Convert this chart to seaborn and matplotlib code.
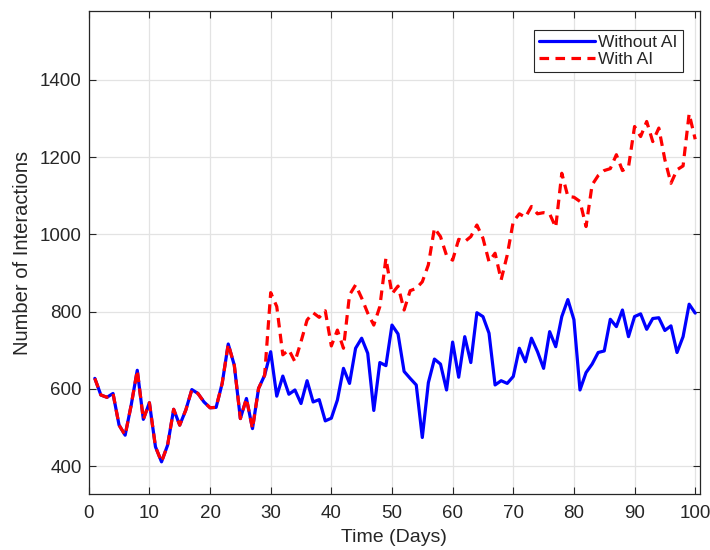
import numpy as np
import pandas as pd
import matplotlib
matplotlib.use("Agg")
import matplotlib.pyplot as plt
import seaborn as sns

days = list(range(1, 101))

without_ai = [627, 584, 578, 588, 506, 480, 558, 648, 521, 564,
              450, 411, 454, 547, 506, 545, 598, 588, 566, 551,
              552, 614, 716, 661, 523, 575, 497, 601, 635, 696,
              581, 633, 586, 597, 562, 621, 566, 572, 517, 524,
              571, 653, 614, 705, 731, 692, 544, 668, 660, 765,
              742, 645, 627, 610, 474, 616, 677, 664, 597, 721,
              630, 735, 668, 797, 787, 744, 610, 621, 614, 632,
              705, 670, 731, 696, 653, 748, 709, 787, 831, 779,
              597, 642, 664, 694, 698, 780, 761, 804, 735, 787,
              794, 754, 782, 784, 751, 763, 694, 735, 819, 796]

with_ai = [627, 584, 578, 588, 506, 480, 558, 648, 521, 564,
           450, 411, 454, 547, 506, 545, 598, 588, 566, 551,
           552, 614, 716, 661, 523, 575, 497, 601, 635, 849,
           813, 688, 701, 670, 722, 778, 797, 785, 802, 711,
           752, 705, 843, 869, 835, 796, 765, 813, 938, 846,
           866, 804, 854, 860, 877, 921, 1016, 994, 945, 933,
           987, 981, 994, 1024, 990, 929, 951, 882, 946, 1033,
           1053, 1044, 1072, 1053, 1056, 1053, 1018, 1158, 1098, 1096,
           1085, 1020, 1128, 1152, 1165, 1170, 1206, 1165, 1174, 1279,
           1253, 1292, 1240, 1275, 1193, 1132, 1167, 1177, 1312, 1246]

x_ticks = [0, 10, 20, 30, 40, 50, 60, 70, 80, 90, 100]
y_ticks = [400, 600, 800, 1000, 1200, 1400]

sns.set_theme(style="white")
plt.rcParams['font.family'] = ['Liberation Sans', 'DejaVu Sans']

fig = plt.figure(figsize=(7.1, 5.5), dpi=100)
ax = fig.add_axes([0.125, 0.102, 0.861, 0.878])

df = pd.DataFrame({"day": days, "Without AI": without_ai, "With AI": with_ai})

sns.lineplot(data=df, x="day", y="Without AI", ax=ax, color="#0000ff",
             linewidth=2.3, label="Without AI")
sns.lineplot(data=df, x="day", y="With AI", ax=ax, color="#ff0000",
             linewidth=2.3, linestyle=(0, (3.0, 2.0)), label="With AI")

ax.set_xlim(0, 100.8)
ax.set_ylim(328, 1578)
ax.set_xticks(x_ticks)
ax.set_yticks(y_ticks)
ax.grid(True, color="#e3e3e3", linewidth=0.9)
ax.set_axisbelow(True)

dark = "#262626"
for s in ax.spines.values():
    s.set_color(dark)
    s.set_linewidth(0.9)
    s.set_visible(True)
ax.tick_params(direction="in", length=5, width=0.8, colors=dark,
               labelsize=13.5, top=True, right=True, bottom=True, left=True,
               labeltop=False, labelright=False, pad=5)
ax.tick_params(axis="x", pad=8)
for lab in ax.get_xticklabels() + ax.get_yticklabels():
    lab.set_color(dark)

ax.set_xlabel("Time (Days)", fontsize=14, color=dark, labelpad=5)
ax.set_ylabel("Number of Interactions", fontsize=14.5, color=dark, labelpad=6)

leg = ax.legend(loc="upper right", bbox_to_anchor=(0.972, 0.961),
                borderaxespad=0, fontsize=12.5, handlelength=3.2,
                handletextpad=0.2, labelspacing=0.1, borderpad=0.3,
                fancybox=False, framealpha=1, edgecolor=dark)
leg.get_frame().set_linewidth(0.8)

fig.savefig("out.png", dpi=100)
